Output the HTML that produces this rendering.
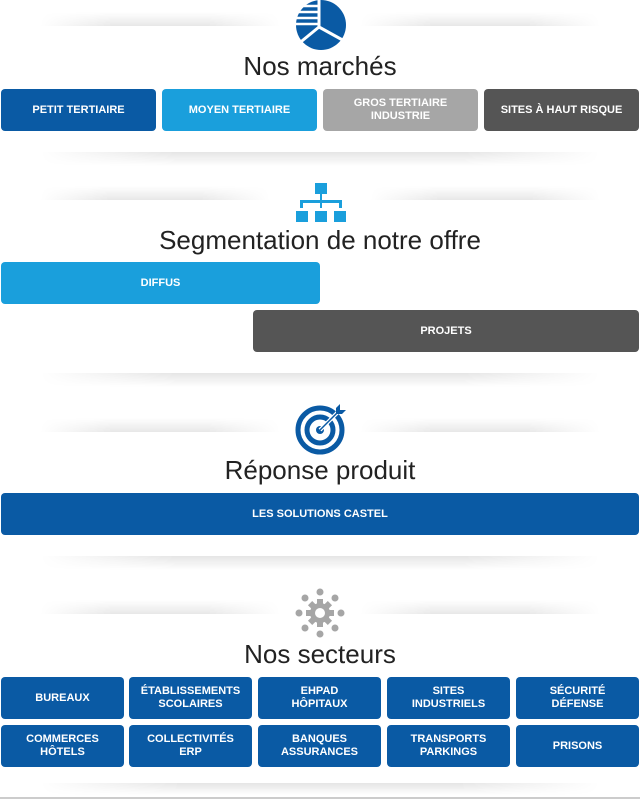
<!DOCTYPE html>
<html><head><meta charset="utf-8"><style>
*{margin:0;padding:0;box-sizing:border-box}
body{width:640px;height:800px;background:#fff;position:relative;overflow:hidden;font-family:"Liberation Sans",sans-serif}
.b{position:absolute;border-radius:4px;color:#fff;font-weight:bold;font-size:11px;display:flex;align-items:center;justify-content:center;text-align:center;line-height:13px}
.db{background:#0a5aa4}.lb{background:#1a9fdc}.gr{background:#a6a6a6}.dg{background:#555}
.t{position:absolute;left:0;width:640px;text-align:center;font-size:26px;color:#222;line-height:30px}
.sh{position:absolute;height:14px;background:linear-gradient(to bottom,rgba(0,0,0,0.10),rgba(0,0,0,0));-webkit-mask-image:linear-gradient(to right,transparent,#000 25%,#000 75%,transparent)}
.shu{position:absolute;height:14px;background:linear-gradient(to top,rgba(0,0,0,0.09),rgba(0,0,0,0));-webkit-mask-image:linear-gradient(to right,transparent,#000 30%,#000 70%,transparent)}
</style></head><body>
<div class="shu" style="left:40px;top:12px;width:240px"></div>
<div class="shu" style="left:360px;top:12px;width:240px"></div>
<div class="shu" style="left:40px;top:186px;width:230px"></div>
<div class="shu" style="left:370px;top:186px;width:230px"></div>
<div class="shu" style="left:40px;top:418px;width:240px"></div>
<div class="shu" style="left:360px;top:418px;width:240px"></div>
<div class="shu" style="left:40px;top:600px;width:240px"></div>
<div class="shu" style="left:360px;top:600px;width:240px"></div>

<svg style="position:absolute;left:294px;top:0" width="54" height="52" viewBox="0 0 54 52">
<circle cx="27" cy="25" r="25" fill="#0a5aa4"/>
<g stroke="#fff">
<line x1="0" y1="6" x2="25" y2="6" stroke-width="2.5"/>
<line x1="0" y1="12" x2="25" y2="12" stroke-width="2.5"/>
<line x1="0" y1="18" x2="25" y2="18" stroke-width="2.5"/>
<line x1="0" y1="24" x2="25" y2="24" stroke-width="2.5"/>
<line x1="25" y1="0" x2="25" y2="27" stroke-width="3"/>
<line x1="25" y1="27" x2="54" y2="43" stroke-width="3"/>
<line x1="25" y1="27" x2="3" y2="45" stroke-width="3"/>
</g>
</svg>
<div class="t" style="top:51px">Nos marchés</div>
<div class="b db" style="left:1px;top:89px;width:155px;height:42px">PETIT TERTIAIRE</div>
<div class="b lb" style="left:162px;top:89px;width:155px;height:42px">MOYEN TERTIAIRE</div>
<div class="b gr" style="left:323px;top:89px;width:155px;height:42px">GROS TERTIAIRE<br>INDUSTRIE</div>
<div class="b dg" style="left:484px;top:89px;width:155px;height:42px">SITES À HAUT RISQUE</div>
<div class="sh" style="left:40px;top:152px;width:560px"></div>

<svg style="position:absolute;left:295px;top:183px" width="52" height="40" viewBox="0 0 52 40">
<rect x="20" y="0" width="12" height="11" fill="#1a9fdc"/>
<rect x="25" y="11" width="2" height="8" fill="#1a9fdc"/>
<rect x="5" y="17" width="42" height="3" fill="#1a9fdc"/>
<rect x="5" y="17" width="3" height="8" fill="#1a9fdc"/>
<rect x="44" y="17" width="3" height="8" fill="#1a9fdc"/>
<rect x="25" y="17" width="2" height="8" fill="#1a9fdc"/>
<rect x="1" y="28" width="12" height="11" fill="#1a9fdc"/>
<rect x="20" y="28" width="12" height="11" fill="#1a9fdc"/>
<rect x="39" y="28" width="12" height="11" fill="#1a9fdc"/>
</svg>
<div class="t" style="top:225px">Segmentation de notre offre</div>
<div class="b lb" style="left:1px;top:262px;width:319px;height:42px">DIFFUS</div>
<div class="b dg" style="left:253px;top:310px;width:386px;height:42px">PROJETS</div>
<div class="sh" style="left:40px;top:373px;width:560px"></div>

<svg style="position:absolute;left:294px;top:403px" width="54" height="52" viewBox="0 0 54 52">
<circle cx="26" cy="27" r="22" fill="none" stroke="#0a5aa4" stroke-width="5"/>
<circle cx="26" cy="27" r="13" fill="none" stroke="#0a5aa4" stroke-width="5"/>
<circle cx="26" cy="27" r="4" fill="#0a5aa4"/>
<line x1="26" y1="27" x2="46" y2="7" stroke="#fff" stroke-width="4"/>
<line x1="26" y1="27" x2="46" y2="7" stroke="#0a5aa4" stroke-width="1.5"/>
<path d="M42 5 L46 1 L46 7 L52 7 L48 11 L42 11 Z" fill="#0a5aa4"/>
</svg>
<div class="t" style="top:455px">Réponse produit</div>
<div class="b db" style="left:1px;top:493px;width:638px;height:42px">LES SOLUTIONS CASTEL</div>
<div class="sh" style="left:40px;top:556px;width:560px"></div>

<svg style="position:absolute;left:294px;top:587px" width="54" height="52" viewBox="0 0 54 52">
<g fill="#a6a6a6">
<circle cx="26" cy="5" r="3.5"/><circle cx="26" cy="47" r="3.5"/>
<circle cx="5" cy="26" r="3.5"/><circle cx="47" cy="26" r="3.5"/>
<circle cx="11" cy="11" r="3.5"/><circle cx="41" cy="11" r="3.5"/>
<circle cx="11" cy="41" r="3.5"/><circle cx="41" cy="41" r="3.5"/>
<rect x="23" y="12" width="6" height="28"/><rect x="12" y="23" width="28" height="6"/>
<rect x="23" y="12" width="6" height="28" transform="rotate(45 26 26)"/>
<rect x="23" y="12" width="6" height="28" transform="rotate(-45 26 26)"/>
<circle cx="26" cy="26" r="10"/>
</g>
<circle cx="26" cy="26" r="5" fill="#fff"/>
</svg>
<div class="t" style="top:639px">Nos secteurs</div>

<div class="b db" style="left:1px;top:677px;width:123px;height:42px">BUREAUX</div>
<div class="b db" style="left:129px;top:677px;width:123px;height:42px">ÉTABLISSEMENTS<br>SCOLAIRES</div>
<div class="b db" style="left:258px;top:677px;width:123px;height:42px">EHPAD<br>HÔPITAUX</div>
<div class="b db" style="left:387px;top:677px;width:123px;height:42px">SITES<br>INDUSTRIELS</div>
<div class="b db" style="left:516px;top:677px;width:123px;height:42px">SÉCURITÉ<br>DÉFENSE</div>
<div class="b db" style="left:1px;top:725px;width:123px;height:42px">COMMERCES<br>HÔTELS</div>
<div class="b db" style="left:129px;top:725px;width:123px;height:42px">COLLECTIVITÉS<br>ERP</div>
<div class="b db" style="left:258px;top:725px;width:123px;height:42px">BANQUES<br>ASSURANCES</div>
<div class="b db" style="left:387px;top:725px;width:123px;height:42px">TRANSPORTS<br>PARKINGS</div>
<div class="b db" style="left:516px;top:725px;width:123px;height:42px">PRISONS</div>
<div class="sh" style="left:40px;top:783px;width:560px;height:12px"></div>
<div style="position:absolute;left:0;top:797px;width:640px;height:2px;background:#ccc"></div>
</body></html>
